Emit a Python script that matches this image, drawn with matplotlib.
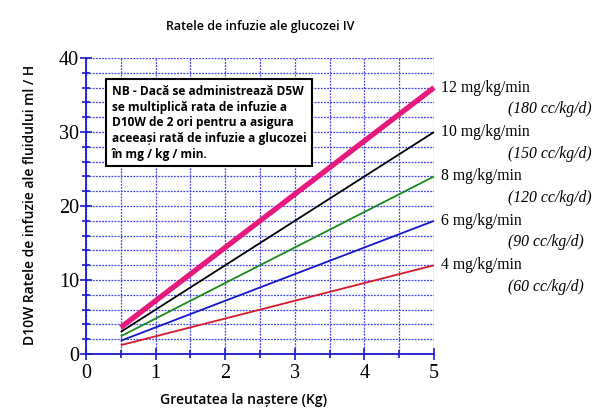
import matplotlib
matplotlib.use("Agg")
import matplotlib.pyplot as plt
from matplotlib.ticker import MultipleLocator

weights = [0.5, 5.0]
rates = [12, 10, 8, 6, 4]
series = {
    12: [3.6, 36.0],
    10: [3.0, 30.0],
    8: [2.4, 24.0],
    6: [1.8, 18.0],
    4: [1.2, 12.0],
}
labels_main = ["12 mg/kg/min", "10 mg/kg/min", "8 mg/kg/min", "6 mg/kg/min", "4 mg/kg/min"]
labels_sub = ["(180 cc/kg/d)", "(150 cc/kg/d)", "(120 cc/kg/d)", "(90 cc/kg/d)", "(60 cc/kg/d)"]
colors = ["#e8197c", "#000000", "#1a8a1a", "#1515cc", "#d41a2a"]
widths = [3.8, 1.3, 1.3, 1.3, 1.3]

title = "Ratele de infuzie ale glucozei IV"
xlabel = "Greutatea la naștere (Kg)"
ylabel = "D10W Ratele de infuzie ale fluidului ml / H"
note = ("NB - Dacă se administrează D5W\nse multiplică rata de infuzie a\n"
        "D10W de 2 ori pentru a asigura\naceeași rată de infuzie a glucozei\nîn mg / kg / min.")

fig = plt.figure(figsize=(6, 4.19), dpi=100)
ax = fig.add_axes([0.1433, 0.155, 0.58, 0.7064])
ax.set_xlim(0, 5)
ax.set_ylim(0, 40)

blue = "#1a1acc"
ax.xaxis.set_major_locator(MultipleLocator(1))
ax.xaxis.set_minor_locator(MultipleLocator(0.5))
ax.yaxis.set_major_locator(MultipleLocator(10))
ax.yaxis.set_minor_locator(MultipleLocator(2))
ax.grid(True, which="both", color="#4444ee", linestyle=(0, (1.5, 1)), linewidth=0.9)
ax.set_axisbelow(True)
for s in ["top", "right"]:
    ax.spines[s].set_visible(False)
for s in ["left", "bottom"]:
    ax.spines[s].set_color(blue)
    ax.spines[s].set_linewidth(1.3)
ax.tick_params(which="both", direction="inout", color=blue, width=1.2)
ax.tick_params(which="major", length=8)
ax.tick_params(which="minor", length=6)
for lab in ax.get_xticklabels() + ax.get_yticklabels():
    lab.set_fontfamily("Liberation Serif")
    lab.set_fontsize(14.5)
ax.tick_params(axis="x", pad=3)
ax.tick_params(axis="y", pad=1)

for r, c, w, lm, ls in zip(rates, colors, widths, labels_main, labels_sub):
    y = series[r]
    ax.plot(weights, y, color=c, linewidth=w, solid_capstyle="butt", clip_on=False, zorder=3)
    ax.annotate(lm, xy=(5, y[1]), xytext=(5, 0), textcoords="offset points",
                fontsize=11.3, family="Liberation Serif", va="center", ha="left",
                annotation_clip=False)
    ax.annotate(ls, xy=(5, y[1]), xytext=(53, -15.5), textcoords="offset points",
                fontsize=11.3, family="Liberation Serif", style="italic",
                va="center", ha="left", annotation_clip=False)

ax.text(0.37, 36.4, note, fontsize=8.6, fontweight="bold", family="Open Sans",
        va="top", ha="left", linespacing=1.28, zorder=5,
        bbox=dict(boxstyle="square,pad=0.45", fc="white", ec="black", lw=1.5))

fig.text(0.433, 0.936, title, ha="center", va="center", fontsize=9,
         fontweight="semibold", family="Open Sans")
fig.text(0.405, 0.045, xlabel, ha="center", va="center", fontsize=10,
         fontweight="semibold", family="Open Sans")
fig.text(0.05, 0.51, ylabel, ha="center", va="center", rotation=90, fontsize=10,
         fontweight="semibold", family="Open Sans")

fig.savefig("out.png", dpi=100)
